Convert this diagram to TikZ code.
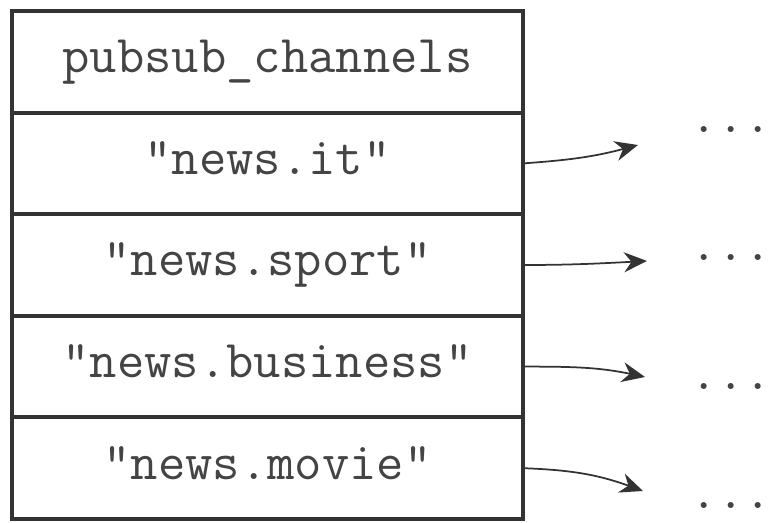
\documentclass[tikz,border=0pt]{standalone}
\usepackage{fontspec}
\usetikzlibrary{arrows.meta,positioning,calc}
\definecolor{BoxGray}{RGB}{51,51,51}
\definecolor{TextGray}{RGB}{68,68,68}
\tikzset{
  slot/.style={draw=BoxGray,line width=0.08cm,outer sep=0pt,inner sep=0pt,
    minimum width=10.22cm,minimum height=2.032cm,align=center,text=TextGray,
    text height=20pt,text depth=7.5pt,font=\ttfamily\fontsize{30.2}{34}\selectfont},
  more/.style={inner sep=0pt,text=TextGray,font=\ttfamily\fontsize{30.2}{34}\selectfont},
  link/.style={-{Stealth[length=0.46cm,width=0.4cm]},line width=0.035cm,BoxGray}
}

\begin{document}
\begin{tikzpicture}
  \useasboundingbox (0,0) rectangle (15.48,10.46);
  \node[slot] (head) at (5.35,9.224) {pubsub\_channels};
  \node[slot,below=0pt of head] (it) {"news.it"};
  \node[slot,below=0pt of it] (sport) {"news.sport"};
  \node[slot,below=0pt of sport] (biz) {"news.business"};
  \node[slot,below=0pt of biz] (movie) {"news.movie"};
  % lists hanging off each channel
  \node[more] (d1) at (14.62,7.86) {...};
  \node[more] (d2) at (14.62,5.30) {...};
  \node[more] (d3) at (14.62,2.72) {...};
  \node[more] (d4) at (14.62,0.34) {...};
  \coordinate (e1) at (12.76,7.56);
  \coordinate (e2) at (12.94,5.24);
  \coordinate (e3) at (12.90,2.92);
  \coordinate (e4) at (12.86,0.64);
  \draw[link] (it.east) to[out=4,in=195] (e1);
  \draw[link] (sport.east) to[out=0,in=183] (e2);
  \draw[link] (biz.east) to[out=0,in=168] (e3);
  \draw[link] (movie.east) to[out=-2,in=160] (e4);
\end{tikzpicture}
\end{document}
